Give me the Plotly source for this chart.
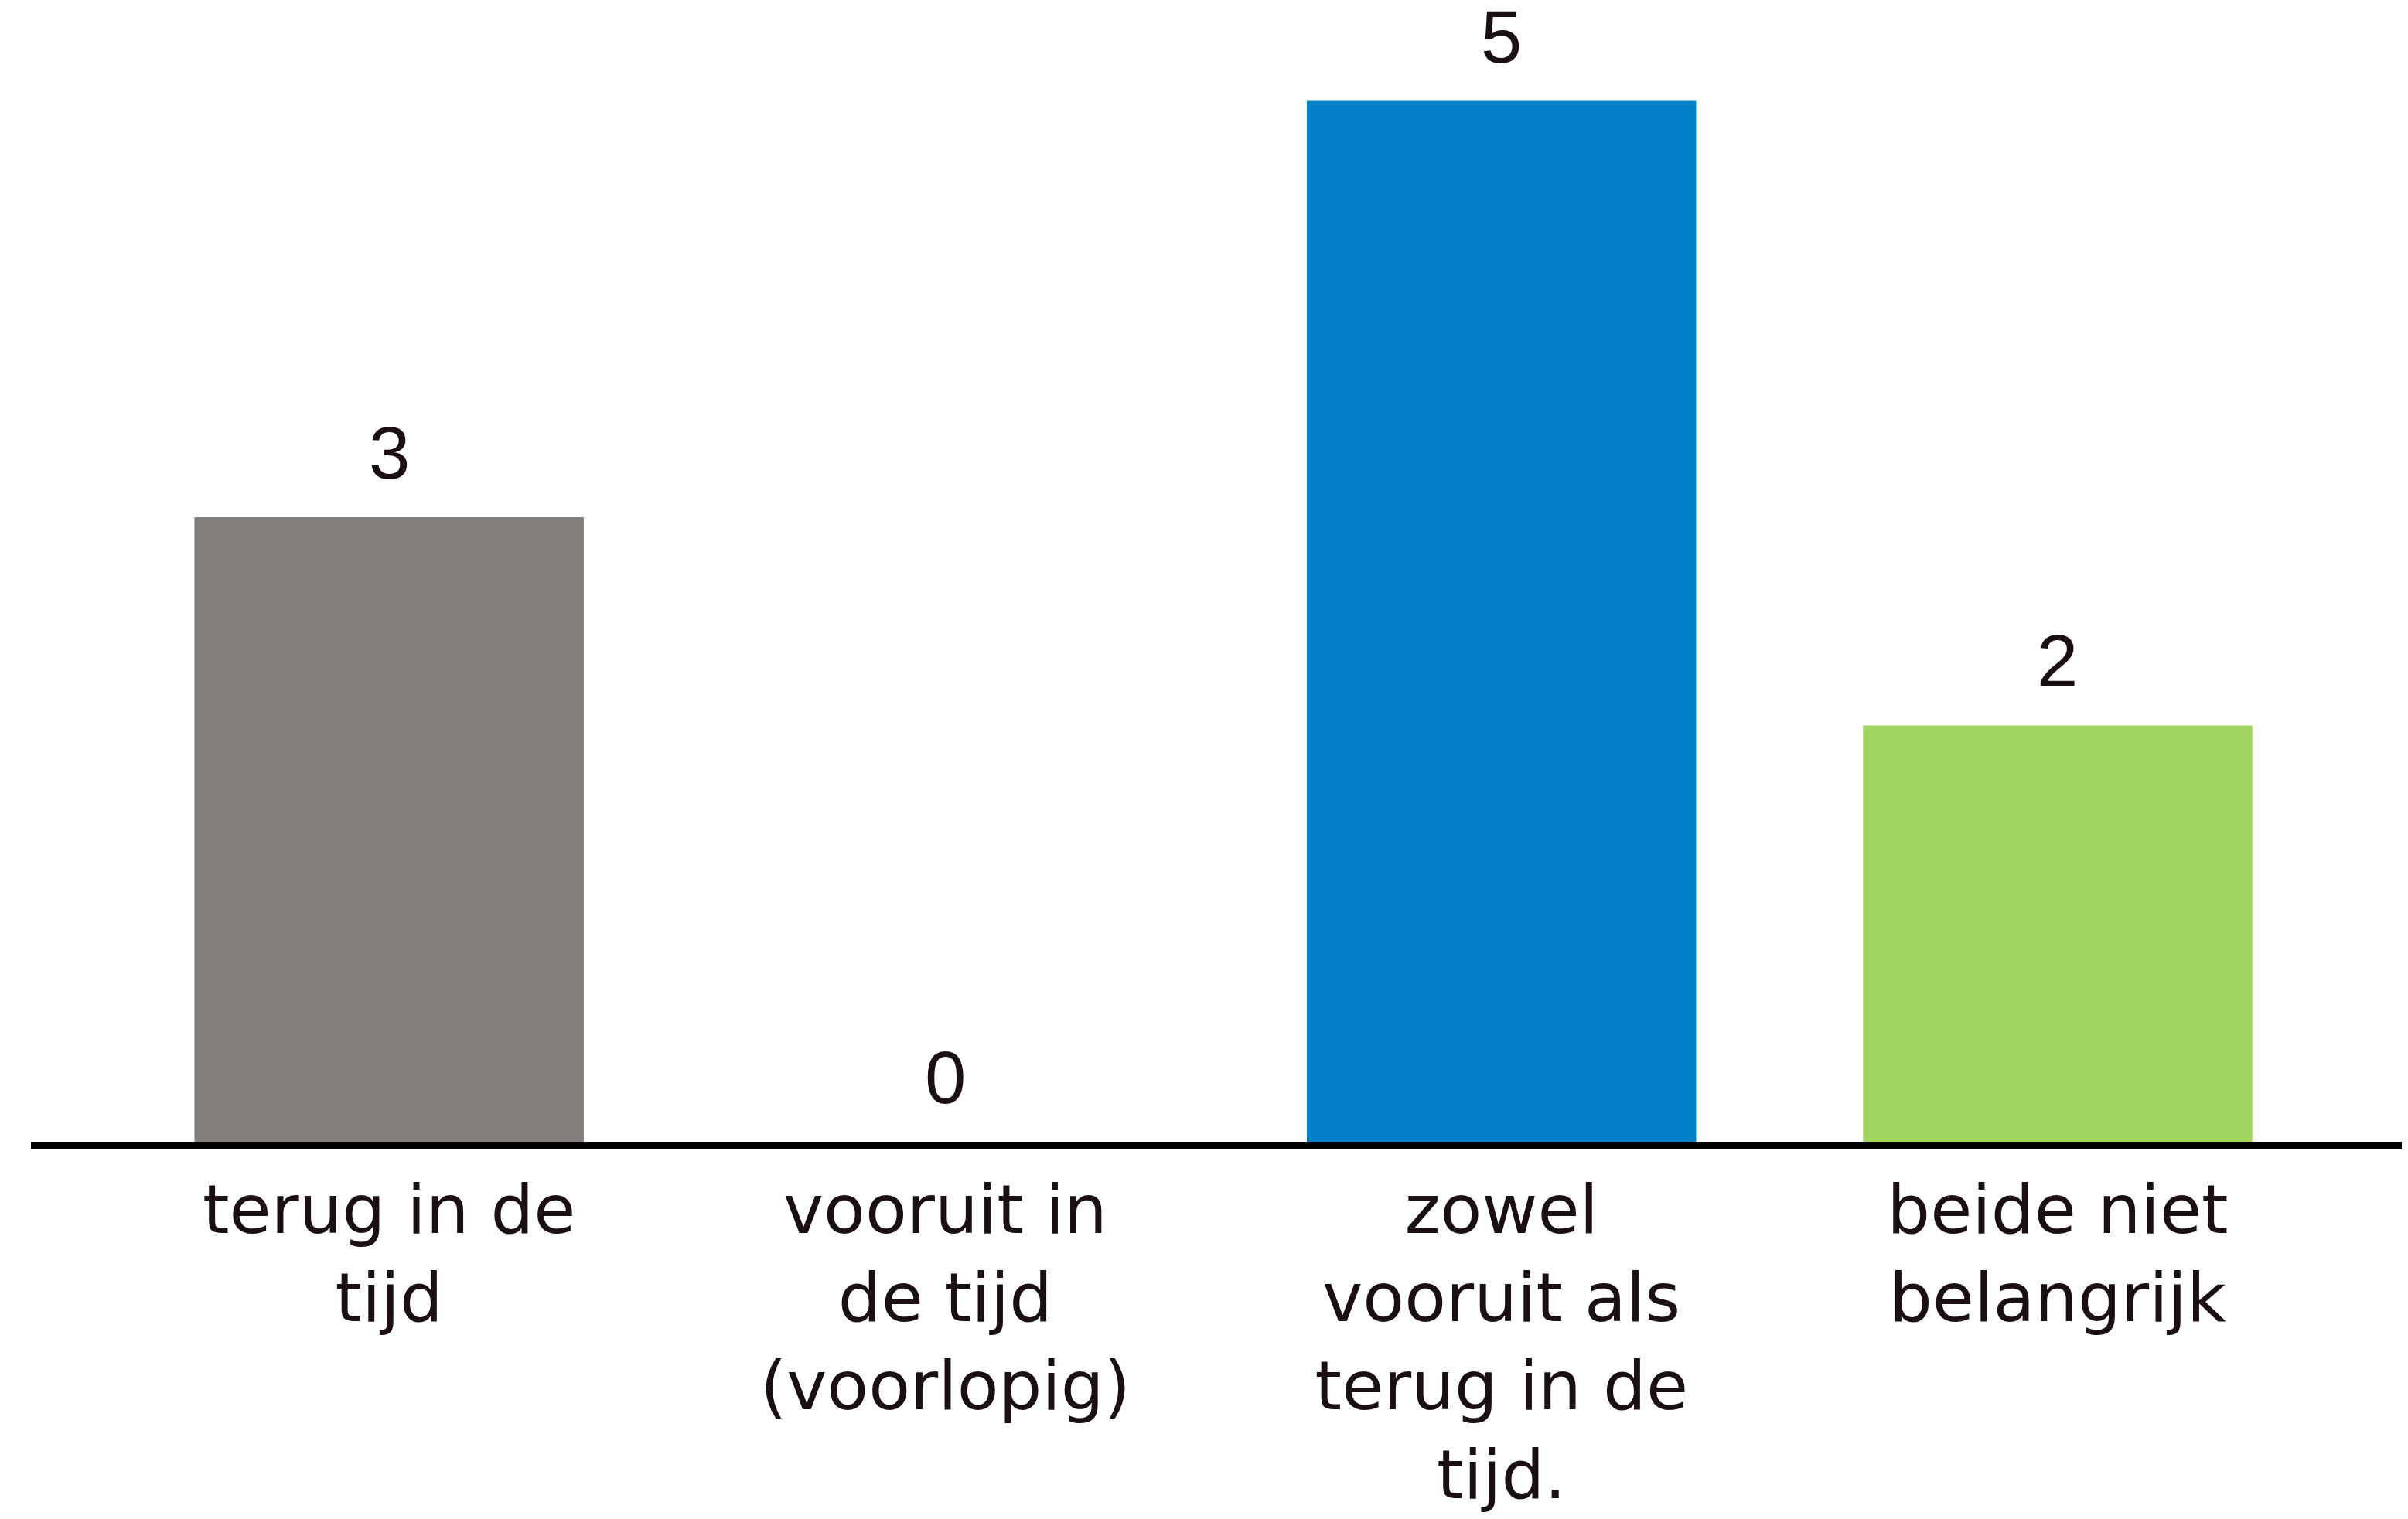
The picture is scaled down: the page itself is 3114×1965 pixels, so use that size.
import plotly.graph_objects as go

categories = ["terug in de<br>tijd", "vooruit in<br>de tijd<br>(voorlopig)",
              "zowel<br>vooruit als<br>terug in de<br>tijd.", "beide niet<br>belangrijk"]
values = [3, 0, 5, 2]
colors = ["#857F7B", "#FFFFFF", "#0281C8", "#A2D462"]

W, H = 3114, 1965
fig = go.Figure()
fig.add_trace(go.Bar(
    x=list(range(len(categories))), y=values,
    marker=dict(color=colors, line=dict(width=0)),
    width=0.7, hoverinfo="skip",
))

for i, v in enumerate(values):
    fig.add_annotation(x=i, y=v, text=str(v), showarrow=False,
                       yanchor="bottom", yshift=28,
                       font=dict(family="Liberation Sans, Arial", size=96, color="#1A1011"))

fig.update_layout(
    width=W, height=H,
    margin=dict(l=32, r=0, t=0, b=496),
    paper_bgcolor="white", plot_bgcolor="white",
    showlegend=False,
    xaxis=dict(
        range=[-0.644, 3.641],
        tickmode="array", tickvals=list(range(len(categories))), ticktext=categories,
        showgrid=False, zeroline=False, automargin=False,
        showline=True, linecolor="#000000", linewidth=10,
        ticks="", ticklabelstandoff=2,
        tickfont=dict(family="DejaVu Sans, Open Sans, sans-serif", size=88, color="#1A1011"),
    ),
    yaxis=dict(range=[0, 5.455], visible=False, showgrid=False, zeroline=False,
               automargin=False),
)

fig.write_html("out.html")
